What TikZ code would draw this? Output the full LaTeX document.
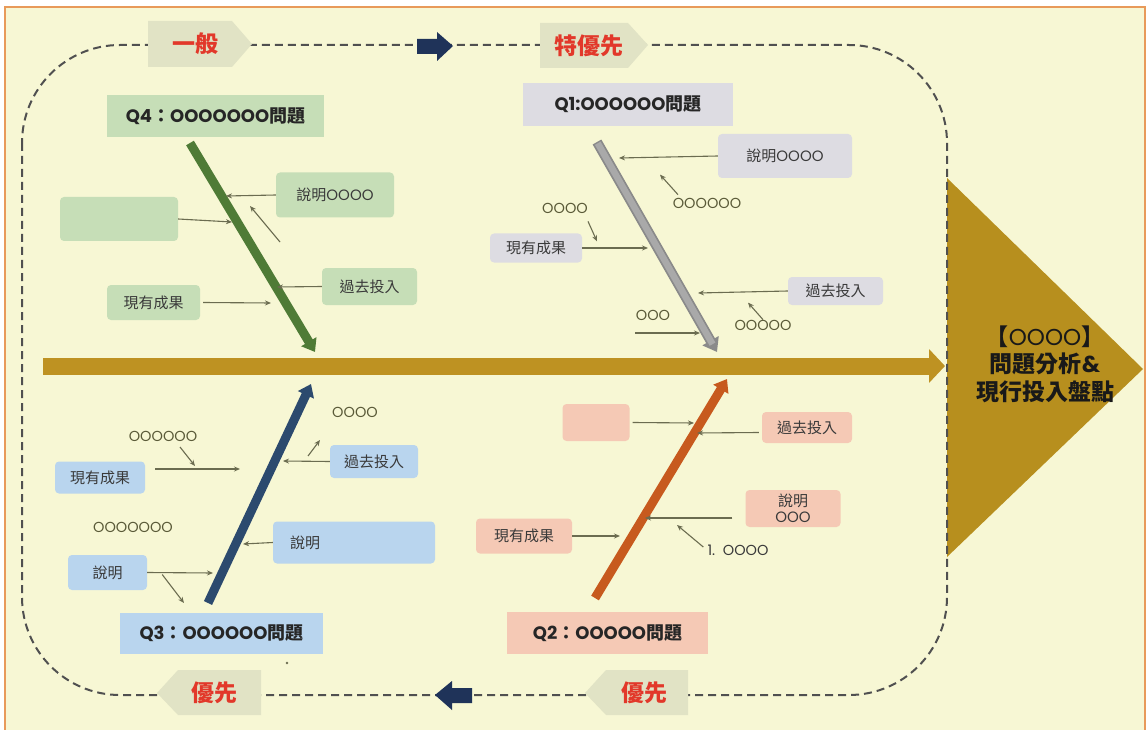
\documentclass[tikz,border=0pt]{standalone}
\usepackage{fontspec}
\usetikzlibrary{arrows.meta,calc}
\newfontfamily\cjk{Noto Sans CJK TC}
\newfontfamily\lat{Poppins}
\newcommand\Os[1]{{\lat #1}}

\definecolor{bgc}{HTML}{F7F7D4}
\definecolor{bord}{HTML}{E89A5A}
\definecolor{loopc}{HTML}{505050}
\definecolor{tagbg}{HTML}{E1E3C5}
\definecolor{tagred}{HTML}{E2382A}
\definecolor{navy}{HTML}{1F3359}
\definecolor{gold}{HTML}{BE9222}
\definecolor{goldtri}{HTML}{B78F1E}
\definecolor{gbone}{HTML}{4F7B36}
\definecolor{gbox}{HTML}{C6DEB7}
\definecolor{sbone}{HTML}{A9A9A9}
\definecolor{sboneedge}{HTML}{8A8A8A}
\definecolor{sbox}{HTML}{DDDCE2}
\definecolor{bbone}{HTML}{2C4A6E}
\definecolor{bbox}{HTML}{B9D5EE}
\definecolor{obone}{HTML}{C75A1E}
\definecolor{obox}{HTML}{F5C9B5}
\definecolor{arr}{HTML}{6B6C50}
\definecolor{txt}{HTML}{3A3A3A}
\definecolor{olab}{HTML}{5A5A38}

\tikzset{
  box/.style={rounded corners=4pt, inner sep=0pt, align=center, text=txt,
    font=\cjk\fontsize{15}{18}\selectfont},
  qtitle/.style={inner sep=0pt, text=black!85, font=\cjk\bfseries\fontsize{18}{20}\selectfont},
  olabel/.style={inner sep=0pt, text=olab, font=\lat\fontsize{14.5}{17}\selectfont},
  sub/.style={draw=arr, line width=1.1pt, -{Stealth[length=6pt,width=5pt]}},
  bone/.style={line width=9pt, draw=#1, -{Triangle[length=12pt,width=17pt]}},
  tagtext/.style={inner sep=0pt, text=tagred, font=\cjk\bfseries\fontsize{23}{26}\selectfont},
}

\begin{document}
\begin{tikzpicture}[x=1pt,y=-1pt]
\useasboundingbox (0,0) rectangle (1146,730);

% page and frame
\fill[white] (0,0) rectangle (1146,730);
\fill[bgc] (5,7) rectangle (1145,730);
\draw[bord, line width=1.4pt] (5,730) -- (5,7) -- (1145,7) -- (1145,730);

% effect head
\fill[goldtri] (947,178) -- (1143,369) -- (947,557) -- cycle;
\node[inner sep=0pt, align=center, font=\cjk\bfseries\fontsize{23}{27.5}\selectfont, text=black!90]
  (effect) at (1045,364) {【{\mdseries\Os{OOOO}}】\\問題分析\Os{\&}\\現行投入盤點};

% priority loop
\draw[loopc, line width=2pt, dash pattern=on 8pt off 5pt, rounded corners=98pt]
  (22,45) rectangle (947,695);

% spine
\coordinate (spineL) at (43,366);
\coordinate (spineR) at (945,366);
\draw[gold, line width=17pt, -{Triangle[length=16pt,width=33pt]}] (spineL) -- (spineR);

% priority tags on the loop
\fill[tagbg] (148,21) -- (232,21) -- (252,44) -- (232,67) -- (148,67) -- cycle;
\node[tagtext] (tagA) at (195,44) {一般};
\fill[tagbg] (540,23) -- (628,23) -- (648,45) -- (628,68) -- (540,68) -- cycle;
\node[tagtext] (tagB) at (589,46) {特優先};
\fill[tagbg] (157,693) -- (178,670) -- (261,670) -- (261,715) -- (178,715) -- cycle;
\node[tagtext] (tagC) at (214,693) {優先};
\fill[tagbg] (585,693) -- (606,670) -- (688,670) -- (688,715) -- (606,715) -- cycle;
\node[tagtext] (tagD) at (644,693) {優先};

% direction arrows on the loop
\fill[navy] (417,39) -- (437,39) -- (437,32) -- (453,46) -- (437,61) -- (437,54) -- (417,54) -- cycle;
\fill[navy] (472,688) -- (452,688) -- (452,681) -- (435,695) -- (452,710) -- (452,703) -- (472,703) -- cycle;

% ---------------- Q4 (green) ----------------
\node[qtitle, fill=gbox, minimum width=217pt, minimum height=42pt] (q4t) at (215.5,116)
  {\Os{Q4}：\Os{OOOOOOO}問題};
\coordinate (q4a) at (190,143);
\coordinate (q4b) at (315,352);
\draw[bone=gbone] (q4a) -- (q4b);
\node[box, fill=gbox, minimum width=118pt, minimum height=45pt] (q4s1) at (335,195) {說明\Os{OOOO}};
\node[box, fill=gbox, minimum width=118pt, minimum height=44pt] (q4e) at (119,219) {};
\node[box, fill=gbox, minimum width=95pt, minimum height=37pt] (q4s2) at (369.5,286.5) {過去投入};
\node[box, fill=gbox, minimum width=93pt, minimum height=35pt] (q4s3) at (153.5,302.5) {現有成果};
\coordinate (q4c1) at (226,196);
\coordinate (q4c2) at (232,222);
\coordinate (q4c3) at (277,287);
\coordinate (q4c4) at (271,303);
\coordinate (q4d1) at (280,242);
\coordinate (q4d2) at (250,206);
\draw[sub] (q4s1.west) -- (q4c1);
\draw[sub] (q4e.east) -- (q4c2);
\draw[sub] (q4s2.west) -- (q4c3);
\draw[sub] ($(q4s3.east)+(3,0)$) -- (q4c4);
\draw[sub] (q4d1) -- (q4d2);

% ---------------- Q1 (grey) ----------------
\node[qtitle, fill=sbox, minimum width=210pt, minimum height=43pt] (q1t) at (628,104.5)
  {\Os{Q1:OOOOOO}問題};
\coordinate (q1a) at (597,142);
\coordinate (q1b) at (717,352);
\draw[line width=10pt, draw=sboneedge, -{Triangle[length=13pt,width=18pt]}] (q1a) -- (q1b);
\draw[line width=6.5pt, draw=sbone, shorten >=9pt, shorten <=1.5pt] (q1a) -- (q1b);
\node[box, fill=sbox, minimum width=134pt, minimum height=44pt] (q1s1) at (785,156) {說明\Os{OOOO}};
\node[box, fill=sbox, minimum width=92pt, minimum height=29pt] (q1s3) at (536,248) {現有成果};
\node[box, fill=sbox, minimum width=95pt, minimum height=28pt] (q1s2) at (835.5,291) {過去投入};
\node[olabel] (q1o1) at (707,203) {OOOOOO};
\node[olabel] (q1o2) at (565,208) {OOOO};
\node[olabel] (q1o3) at (763,325) {OOOOO};
\node[olabel] (q1o4) at (653,315) {OOO};
\coordinate (q1c1) at (619,158);
\coordinate (q1c2) at (648,248);
\coordinate (q1c3) at (698,293);
\coordinate (q1c4) at (700,333);
\coordinate (q1c5) at (635,333);
\draw[sub] (q1s1.west) -- (q1c1);
\draw[sub] (q1s3.east) -- (q1c2);
\draw[sub] (q1s2.west) -- (q1c3);
\draw[sub] (q1c5) -- (q1c4);
\draw[sub] ($(q1o1.north)+(-29,-3)$) -- ++(-18,-20);
\draw[sub] ($(q1o2.south)+(23,8)$) -- ++(9,20);
\draw[sub] ($(q1o3.north)+(0,0)$) -- ++(-15,-17);

% ---------------- Q3 (navy) ----------------
\node[qtitle, fill=bbox, minimum width=203pt, minimum height=41pt] (q3t) at (221.5,633.5)
  {\Os{Q3}：\Os{OOOOOO}問題};
\coordinate (q3a) at (208,603);
\coordinate (q3b) at (311,384);
\draw[bone=bbone] (q3a) -- (q3b);
\node[olabel] (q3o1) at (355,412) {OOOO};
\node[box, fill=bbox, minimum width=88pt, minimum height=33pt] (q3s1) at (374,461.5) {過去投入};
\node[olabel] (q3o2) at (163,436) {OOOOOO};
\node[box, fill=bbox, minimum width=90pt, minimum height=32pt] (q3s2) at (100,477.5) {現有成果};
\node[olabel] (q3o3) at (133,527) {OOOOOOO};
\node[box, fill=bbox, minimum width=162pt, minimum height=42pt] (q3s3) at (354,542.5) {};
\node[box, inner sep=0pt] (q3s3txt) at (305,543) {說明};
\node[box, fill=bbox, minimum width=79pt, minimum height=35pt] (q3s4) at (107.5,572.5) {說明};
\coordinate (q3c1) at (283,461);
\coordinate (q3c2) at (240,469);
\coordinate (q3c3) at (243,544);
\coordinate (q3c4) at (213,573);
\coordinate (q3c5) at (184,603);
\draw[sub] (q3s1.west) -- (q3c1);
\draw[sub] (155,469) -- (q3c2);
\draw[sub] (q3s3.west) -- (q3c3);
\draw[sub] (q3s4.east) -- (q3c4);
\draw[sub] ($(q3s4.east)+(15,2)$) -- (q3c5);
\draw[sub] (308,456) -- (320,440);
\draw[sub] (180,447) -- (195,466);
\fill[arr] (287,663) circle (1.3pt);

% ---------------- Q2 (orange) ----------------
\node[qtitle, fill=obox, minimum width=201pt, minimum height=42pt] (q2t) at (607.5,633)
  {\Os{Q2}：\Os{OOOOO}問題};
\coordinate (q2a) at (595,598);
\coordinate (q2b) at (727,379);
\draw[bone=obone] (q2a) -- (q2b);
\node[box, fill=obox, minimum width=67pt, minimum height=37pt] (q2e) at (596,422.5) {};
\node[box, fill=obox, minimum width=90pt, minimum height=31pt] (q2s1) at (807,427.5) {過去投入};
\node[box, fill=obox, minimum width=95pt, minimum height=37pt, font=\cjk\fontsize{15}{16}\selectfont]
  (q2s2) at (793,508.5) {說明\\\Os{OOO}};
\node[box, fill=obox, minimum width=96pt, minimum height=35pt] (q2s3) at (524,536) {現有成果};
\node[olabel, text=txt] (q2o1) at (738,550) {1.\ \ OOOO};
\coordinate (q2c1) at (694,423);
\coordinate (q2c2) at (697,433);
\coordinate (q2c3) at (645,518);
\coordinate (q2c4) at (620,536);
\draw[sub] ($(q2e.east)+(3,0)$) -- (q2c1);
\draw[sub] ($(q2s1.west)+(-3,5)$) -- (q2c2);
\draw[sub] ($(q2s2.west)+(-13,9.5)$) -- (q2c3);
\draw[sub] (q2s3.east) -- (q2c4);
\draw[sub] ($(q2o1.west)+(-4,-3)$) -- (677,525);

\end{tikzpicture}
\end{document}
